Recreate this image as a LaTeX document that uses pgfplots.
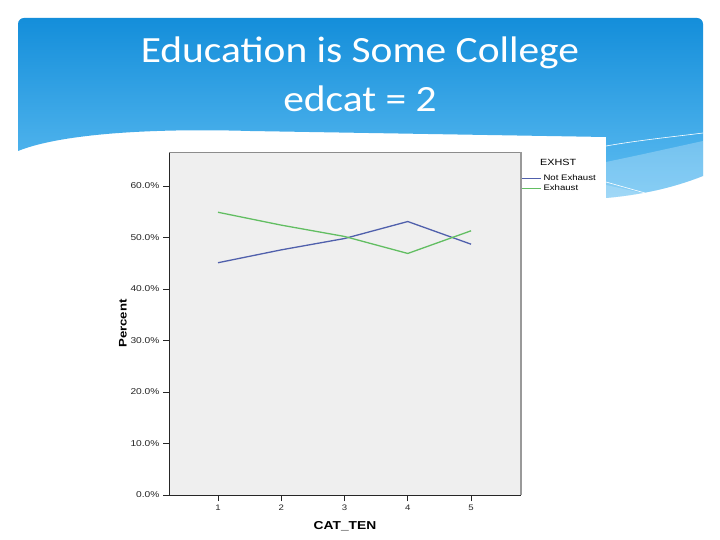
\documentclass[border=0pt]{standalone}
\usepackage{pgfplots}
\pgfplotsset{compat=1.18}
\usepackage{fontspec}
\setmainfont{Liberation Sans}
\newfontfamily\titlefont[FakeStretch=1.12]{Carlito}
\newfontfamily\spss[FakeStretch=1.2]{Liberation Sans}
\definecolor{bantop}{RGB}{20,142,218}
\definecolor{banbot}{RGB}{96,190,242}
\definecolor{plotbg}{RGB}{239,239,239}
\definecolor{notex}{RGB}{80,96,172}
\definecolor{exh}{RGB}{98,190,98}

\pgfplotstableread{
cat notex exh
1 45.1 54.9
2 47.6 52.4
3 49.8 50.2
4 53.1 46.9
5 48.7 51.3
}\datatable

\begin{document}
\begin{tikzpicture}
% slide, y measured downwards in pixels
\begin{scope}[x=1pt,y=-1pt]
\fill[white] (0,0) rectangle (720,540);
\shade[top color=bantop, bottom color=banbot]
  (18,151) -- (18,24) to[out=90,in=180] (24,18) -- (697,18) to[out=0,in=90] (703,24)
  -- (703,176) .. controls (680,185) and (650,194) .. (606,198) -- (606,137)
  -- (250,131) .. controls (150,128) and (60,134) .. (18,151) -- cycle;
\fill[white,opacity=0.25] (606,162) .. controls (640,155) and (680,146) .. (703,141)
  -- (703,176) .. controls (680,185) and (650,194) .. (606,198) -- cycle;
\fill[white,opacity=0.2] (606,185) .. controls (630,190) and (640,193) .. (645,193)
  .. controls (670,190) and (690,184) .. (703,176) -- (703,200) -- (606,200) -- cycle;
\draw[white,line width=0.6pt] (606,146) .. controls (640,140) and (680,136) .. (703,133);
\draw[white,line width=0.6pt] (606,182) -- (645,193);
\fill[white] (140,137) rectangle (606,540);
\node[white,font=\titlefont\fontsize{37}{37}\selectfont,anchor=base] at (360,63) {Education is Some College};
\node[white,font=\titlefont\fontsize{37}{37}\selectfont,anchor=base] at (360,112) {edcat = 2};
\node[font=\spss\fontsize{9}{9}\selectfont,anchor=base west,inner sep=0] at (540,166) {EXHST};
\end{scope}
\begin{axis}[
  at={(169pt,-495pt)}, anchor=south west,
  scale only axis, width=352pt, height=343pt,
  xmin=0.225, xmax=5.79, ymin=0, ymax=66.6,
  axis x line*=bottom, axis y line*=left,
  axis line style={line width=1pt, black!85},
  axis background/.style={fill=plotbg},
  xtick={1,2,3,4,5}, ytick={0,10,...,60},
  tick align=outside, major tick length=6pt,
  tick style={black!85, line width=0.8pt},
  xticklabel style={font=\spss\fontsize{8}{8}\selectfont, black!85},
  yticklabel style={font=\spss\fontsize{8.5}{8.5}\selectfont, black!85},
  /pgf/number format/assume math mode=true,
  yticklabel={\pgfmathprintnumber[fixed,fixed zerofill,precision=1]{\tick}\%},
  xlabel={CAT\_TEN}, ylabel={Percent},
  xlabel style={font=\spss\bfseries\fontsize{11.5}{11.5}\selectfont, yshift=-4pt},
  ylabel style={font=\spss\bfseries\fontsize{11}{11}\selectfont, yshift=-3pt},
  legend style={at={(1,0.94)}, anchor=north west, draw=none, fill=none,
    font=\spss\fontsize{8}{8}\selectfont, inner sep=0pt, row sep=-1.4pt,
    cells={inner sep=0.8pt}},
  legend cell align=left,
  legend image code/.code={\draw[#1] (0pt,0pt) -- (19pt,0pt);},
  clip=false,
]
\draw[black!45, line width=0.8pt] (rel axis cs:0,1) -- (rel axis cs:1,1);
\draw[black!40, line width=2pt] (rel axis cs:1,0) -- (rel axis cs:1,1);
\addplot[color=notex, line width=1.3pt] table[x=cat, y=notex] {\datatable};
\addlegendentry{Not Exhaust}
\addplot[color=exh, line width=1.3pt] table[x=cat, y=exh] {\datatable};
\addlegendentry{Exhaust}
\end{axis}
\end{tikzpicture}
\end{document}
